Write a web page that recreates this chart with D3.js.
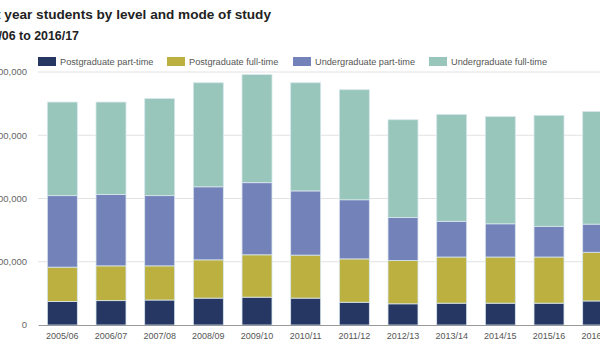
<!DOCTYPE html>
<html>
<head>
<meta charset="utf-8">
<script src="https://cdn.jsdelivr.net/npm/d3@7"></script>
<style>
  body { margin: 0; background: #fff; overflow: hidden; }
  text { font-family: "Liberation Sans", Arial, sans-serif; }
</style>
</head>
<body>
<script>
// chart is shown cropped on the left, like the reference
var svgWidth = 600;
var svgHeight = 350;

var margin = { top: 72, right: -22, bottom: 25, left: 38 };
var height = svgHeight - margin.top - margin.bottom;
var width = svgWidth - margin.left - margin.right;

// data (thousands of students)
var years = ["2005/06", "2006/07", "2007/08", "2008/09", "2009/10", "2010/11",
             "2011/12", "2012/13", "2013/14", "2014/15", "2015/16", "2016/17"];
var pgPartTime = [74, 77, 79, 85, 88, 85, 72, 67, 69, 69, 69, 76];
var pgFullTime = [109, 110, 108, 121, 134, 136, 137, 137, 146, 146, 146, 154];
var ugPartTime = [226, 226, 222, 231, 228, 203, 187, 136, 113, 105, 97, 89];
var ugFullTime = [296, 292, 307, 329, 342, 342, 348, 309, 338, 339, 351, 356];

var seriesNames = ["Postgraduate part-time", "Postgraduate full-time",
                   "Undergraduate part-time", "Undergraduate full-time"];
var seriesColors = ["#263763", "#bcb140", "#7482ba", "#98c6ba"];
var yTicks = [0, 200, 400, 600, 800];

var table = years.map(function(y, i) {
  return { year: y, s0: pgPartTime[i], s1: pgFullTime[i], s2: ugPartTime[i], s3: ugFullTime[i] };
});
var stacked = d3.stack().keys(["s0", "s1", "s2", "s3"])(table);

var svg = d3.select("body")
  .append("svg")
  .attr("width", svgWidth)
  .attr("height", svgHeight);

// titles (left part falls outside the picture)
svg.append("text")
  .attr("x", 271).attr("y", 19)
  .attr("text-anchor", "end")
  .attr("font-size", 13.6).attr("font-weight", "bold").attr("fill", "#222")
  .text("First year students by level and mode of study");

svg.append("text")
  .attr("x", 79).attr("y", 40)
  .attr("text-anchor", "end")
  .attr("font-size", 12.4).attr("font-weight", "bold").attr("fill", "#222")
  .text("2005/06 to 2016/17");

var chartGroup = svg.append("g")
  .attr("transform", `translate(${margin.left}, ${margin.top})`);

var xScale = d3.scaleBand()
  .domain(years)
  .range([0, width])
  .paddingInner(0.384)
  .paddingOuter(0.192);

var yScale = d3.scaleLinear()
  .domain([0, 800])
  .range([height, 0]);

// gridlines
chartGroup.append("g")
  .selectAll("line")
  .data(yTicks.slice(1))
  .enter()
  .append("line")
  .attr("x1", 0).attr("x2", width)
  .attr("y1", d => yScale(d)).attr("y2", d => yScale(d))
  .attr("stroke", "#e2e2e2");

// y labels
chartGroup.append("g")
  .selectAll("text")
  .data(yTicks)
  .enter()
  .append("text")
  .attr("x", -11)
  .attr("y", d => yScale(d))
  .attr("dy", "0.35em")
  .attr("text-anchor", "end")
  .attr("font-size", 9.5).attr("fill", "#666")
  .text(d => d === 0 ? "0" : d3.format(",")(d * 1000));

// bars
chartGroup.selectAll(".layer")
  .data(stacked)
  .enter()
  .append("g")
  .attr("fill", (d, i) => seriesColors[i])
  .selectAll("rect")
  .data(d => d)
  .enter()
  .append("rect")
  .attr("x", d => xScale(d.data.year))
  .attr("width", xScale.bandwidth())
  .attr("y", d => yScale(d[1]))
  .attr("height", d => yScale(d[0]) - yScale(d[1]))
  .attr("stroke", "#d8e6ee")
  .attr("stroke-width", 0.8);

// x axis
var bottomAxis = d3.axisBottom(xScale).tickSize(0).tickPadding(8);
var xAxis = chartGroup.append("g")
  .attr("transform", `translate(0, ${height})`)
  .call(bottomAxis);
xAxis.select(".domain").attr("stroke", "#999").attr("stroke-width", 1.2);
xAxis.selectAll("text")
  .attr("font-family", "Liberation Sans, Arial, sans-serif")
  .attr("font-size", 9).attr("fill", "#555");

// legend
var legendX = [38, 167, 293, 429];
var legend = svg.append("g");
seriesNames.forEach(function(name, i) {
  legend.append("rect")
    .attr("x", legendX[i]).attr("y", 57)
    .attr("width", 18).attr("height", 9)
    .attr("fill", seriesColors[i]);
  legend.append("text")
    .attr("x", legendX[i] + 22).attr("y", 65)
    .attr("font-size", 9.2).attr("fill", "#555")
    .text(name);
});
</script>
</body>
</html>
